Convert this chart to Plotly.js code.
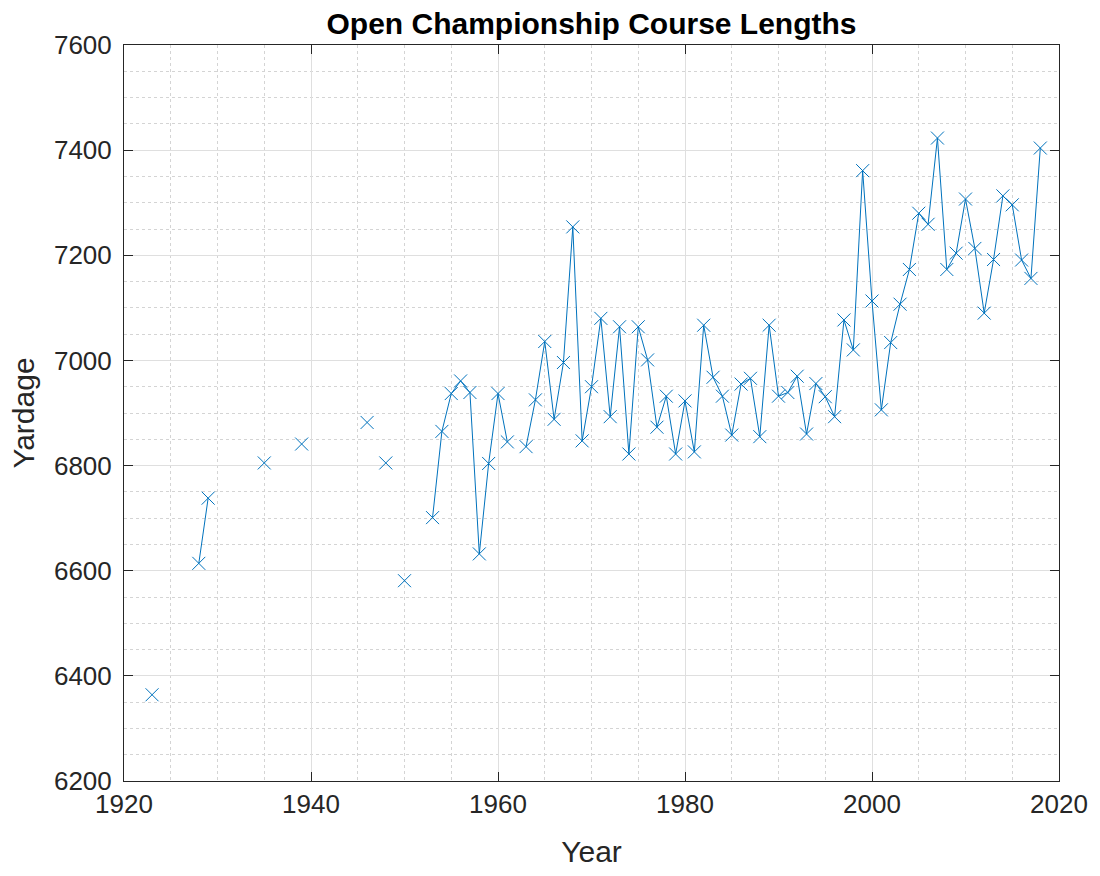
<!DOCTYPE html>
<html>
<head>
<meta charset="utf-8">
<script src="https://cdn.plot.ly/plotly-3.0.1.min.js"></script>
<style>html,body{margin:0;padding:0;background:#fff;}#chart{width:1100px;height:876px;}</style>
</head>
<body>
<div id="chart"></div>
<script>
// Years and course lengths (yards); null marks years with no data (breaks the line)
const years = [
  1923, 1924, 1928, 1929, 1930, 1934, 1935, 1936, 1938, 1939, 1940, 1945,
  1946, 1947, 1948, 1949, 1950, 1951, 1952,
  1953, 1954, 1955, 1956, 1957, 1958, 1959, 1960, 1961, 1962,
  1963, 1964, 1965, 1966, 1967, 1968, 1969, 1970, 1971, 1972,
  1973, 1974, 1975, 1976, 1977, 1978, 1979, 1980, 1981, 1982,
  1983, 1984, 1985, 1986, 1987, 1988, 1989, 1990, 1991, 1992,
  1993, 1994, 1995, 1996, 1997, 1998, 1999, 2000, 2001, 2002,
  2003, 2004, 2005, 2006, 2007, 2008, 2009, 2010, 2011, 2012,
  2013, 2014, 2015, 2016, 2017, 2018
];
const yardage = [
  6364, null, 6614, 6738, null, null, 6805, null, null, 6841, null, null,
  6882, null, 6805, null, 6581, null, null,
  6701, 6865, 6937, 6961, 6939, 6632, 6804, 6937, 6845, null,
  6836, 6925, 7036, 6888, 6996, 7254, 6847, 6950, 7080, 6893,
  7064, 6822, 7064, 7001, 6873, 6932, 6822, 6923, 6826, 7067,
  6968, 6932, 6858, 6955, 6966, 6855, 7067, 6932, 6939, 6970,
  6860, 6956, 6931, 6893, 7077, 7020, 7361, 7113, 6906, 7034,
  7107, 7173, 7280, 7259, 7423, 7173, 7204, 7307, 7213, 7090,
  7192, 7313, 7296, 7191, 7156, 7404
];
const xTicks = [1920, 1940, 1960, 1980, 2000, 2020];
const yTicks = [6200, 6400, 6600, 6800, 7000, 7200, 7400, 7600];

const axisColor = '#262626';
const font = 'Liberation Sans, Arial, Helvetica, sans-serif';

const trace = {
  x: years,
  y: yardage,
  type: 'scatter',
  mode: 'lines+markers',
  connectgaps: false,
  line: {color: '#0072BD', width: 1},
  marker: {symbol: 'x-thin-open', size: 13, color: '#0072BD', line: {color: '#0072BD', width: 1}},
  hoverinfo: 'x+y'
};

const layout = {
  width: 1100,
  height: 876,
  paper_bgcolor: '#ffffff',
  plot_bgcolor: '#ffffff',
  showlegend: false,
  margin: {l: 124, r: 41, t: 45, b: 95, pad: 0},
  title: {
    text: '<b>Open Championship Course Lengths</b>',
    font: {family: font, size: 30, color: '#000000'},
    x: 0.5, xref: 'paper', xanchor: 'center',
    y: 1 - 23 / 876, yref: 'container', yanchor: 'middle'
  },
  xaxis: {
    range: [1920, 2020],
    tickvals: xTicks,
    ticktext: xTicks.map(String),
    showline: true, mirror: 'ticks', linecolor: axisColor, linewidth: 1,
    ticks: 'inside', ticklen: 9, tickcolor: axisColor,
    tickfont: {family: font, size: 26, color: axisColor},
    showgrid: true, gridcolor: '#dfdfdf', gridwidth: 1,
    zeroline: false,
    minor: {dtick: 5, showgrid: true, gridcolor: '#d4d4d4', griddash: 'dot', gridwidth: 1, ticks: ''},
    title: {text: 'Year', font: {family: font, size: 30, color: axisColor}, standoff: 22}
  },
  yaxis: {
    range: [6200, 7600],
    tickvals: yTicks,
    ticktext: yTicks.map(String),
    showline: true, mirror: 'ticks', linecolor: axisColor, linewidth: 1,
    ticks: 'inside', ticklen: 9, tickcolor: axisColor,
    tickfont: {family: font, size: 26, color: axisColor},
    ticklabelstandoff: 6,
    showgrid: true, gridcolor: '#dfdfdf', gridwidth: 1,
    zeroline: false,
    minor: {dtick: 50, showgrid: true, gridcolor: '#d4d4d4', griddash: 'dot', gridwidth: 1, ticks: ''},
    title: {text: 'Yardage', font: {family: font, size: 30, color: axisColor}, standoff: 10}
  }
};

Plotly.newPlot('chart', [trace], layout, {displayModeBar: false, staticPlot: true});
</script>
</body>
</html>
